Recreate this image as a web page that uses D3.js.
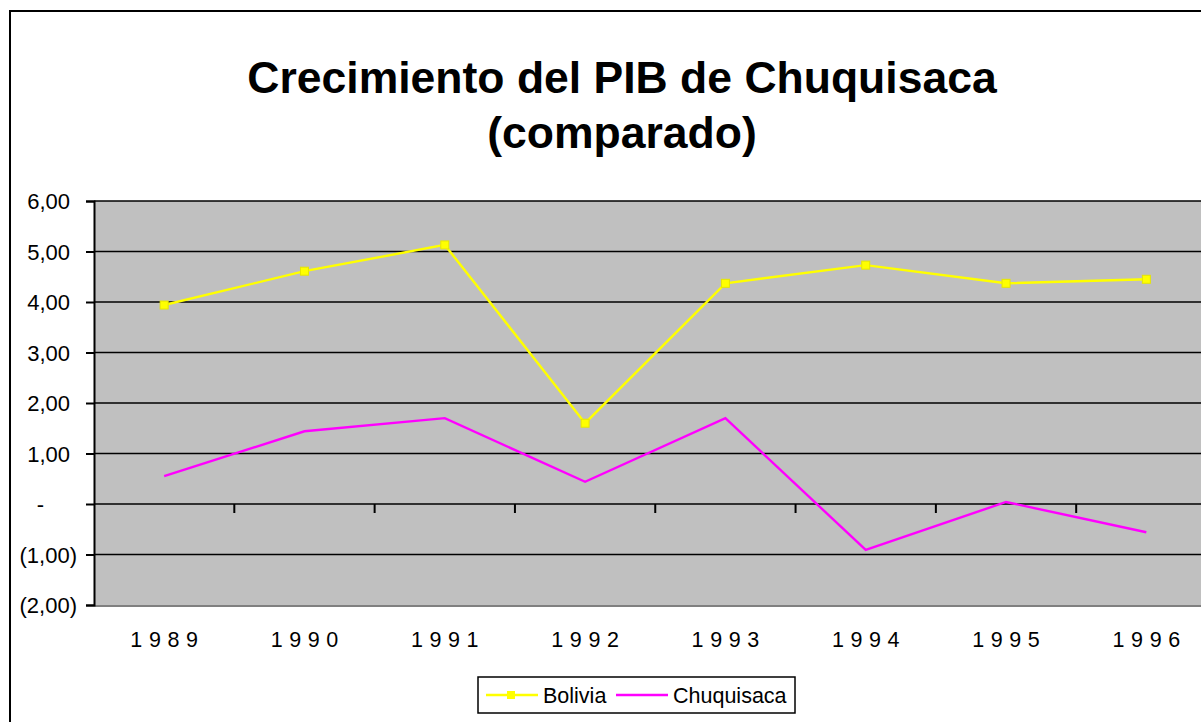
<!DOCTYPE html>
<html>
<head>
<meta charset="utf-8">
<script src="https://cdn.jsdelivr.net/npm/d3@7"></script>
<style>
  body { margin: 0; background: #fff; }
  svg { display: block; font-family: Arial, "Liberation Sans", sans-serif; }
</style>
</head>
<body>
<svg id="chart" width="1201" height="722"></svg>
<script>
// Data
const years = ["1989", "1990", "1991", "1992", "1993", "1994", "1995", "1996"];
const bolivia = [3.94, 4.61, 5.13, 1.60, 4.37, 4.73, 4.37, 4.45];
const chuquisaca = [0.55, 1.44, 1.70, 0.44, 1.70, -0.91, 0.04, -0.56];
const yTicks = [-2, -1, 0, 1, 2, 3, 4, 5, 6];
const titleLines = ["Crecimiento del PIB de Chuquisaca", "(comparado)"];
const seriesNames = ["Bolivia", "Chuquisaca"];

const svg = d3.select("#chart");

// Outer chart border (runs off the right and bottom of the picture)
svg.append("rect")
    .attr("x", 10).attr("y", 11)
    .attr("width", 1250).attr("height", 760)
    .attr("fill", "#fff")
    .attr("stroke", "#000")
    .attr("stroke-width", 2);

// Title
svg.append("g").selectAll("text")
    .data(titleLines)
    .join("text")
    .attr("x", 622)
    .attr("y", (d, i) => 93 + i * 55)
    .attr("text-anchor", "middle")
    .attr("font-size", 44.5)
    .attr("font-weight", "bold")
    .text(d => d);

const plot = { left: 94, top: 201, bottom: 605, right: 1216.5 };

const x = d3.scaleBand().domain(years).range([plot.left, plot.right]);
const y = d3.scaleLinear().domain([-2, 6]).range([plot.bottom, plot.top]);

// Plot area
svg.append("rect")
    .attr("x", plot.left).attr("y", plot.top)
    .attr("width", plot.right - plot.left).attr("height", plot.bottom - plot.top)
    .attr("fill", "#c0c0c0");
svg.append("line")
    .attr("x1", plot.left).attr("x2", plot.right)
    .attr("y1", plot.bottom + 1).attr("y2", plot.bottom + 1)
    .attr("stroke", "#808080").attr("stroke-width", 2);

// Gridlines
svg.append("g").selectAll("line")
    .data(yTicks.filter(d => d > -2))
    .join("line")
    .attr("x1", plot.left).attr("x2", plot.right)
    .attr("y1", d => y(d)).attr("y2", d => y(d))
    .attr("stroke", "#000").attr("stroke-width", 1.6);

// Y axis
const fmt = d3.format(".2f");
const yAxis = svg.append("g")
    .attr("transform", `translate(${plot.left},0)`)
    .call(d3.axisLeft(y).tickValues(yTicks).tickSize(8).tickPadding(0)
        .tickFormat(d => d === 0 ? "-" : d < 0 ? "(" + fmt(-d).replace(".", ",") + ")" : fmt(d).replace(".", ",")));
yAxis.select(".domain").attr("stroke", "#000").attr("stroke-width", 2);
yAxis.selectAll(".tick line").attr("stroke", "#000").attr("stroke-width", 2);
yAxis.selectAll(".tick text")
    .attr("font-size", 22)
    .attr("fill", "#000")
    .attr("font-family", "Arial, 'Liberation Sans', sans-serif")
    .attr("x", d => d < 0 ? -17 : d === 0 ? -50 : -24)
    .attr("dy", "0.36em");

// X axis on the zero line, ticks between categories
svg.append("g").selectAll("line")
    .data(years.slice(1))
    .join("line")
    .attr("x1", d => x(d)).attr("x2", d => x(d))
    .attr("y1", y(0)).attr("y2", y(0) + 9)
    .attr("stroke", "#000").attr("stroke-width", 2);

svg.append("g").selectAll("text")
    .data(years)
    .join("text")
    .attr("x", d => x(d) + x.bandwidth() / 2 + 3.3)
    .attr("y", 647)
    .attr("text-anchor", "middle")
    .attr("font-size", 21.5)
    .attr("letter-spacing", 6.6)
    .text(d => d);

// Lines
const line = d3.line()
    .x((d, i) => x(years[i]) + x.bandwidth() / 2)
    .y(d => y(d));

svg.append("path")
    .datum(chuquisaca)
    .attr("d", line)
    .attr("fill", "none")
    .attr("stroke", "#ff00ff")
    .attr("stroke-width", 2.4);

svg.append("path")
    .datum(bolivia)
    .attr("d", line)
    .attr("fill", "none")
    .attr("stroke", "#ffff00")
    .attr("stroke-width", 2.4);

svg.append("g").selectAll("rect")
    .data(bolivia)
    .join("rect")
    .attr("x", (d, i) => x(years[i]) + x.bandwidth() / 2 - 4)
    .attr("y", d => y(d) - 4)
    .attr("width", 8).attr("height", 8)
    .attr("fill", "#ffff00")
    .attr("stroke", "#e6e600")
    .attr("stroke-width", 1);

// Legend
const legend = svg.append("g");
legend.append("rect")
    .attr("x", 478).attr("y", 677)
    .attr("width", 317).attr("height", 36)
    .attr("fill", "#fff")
    .attr("stroke", "#000")
    .attr("stroke-width", 1.5);

const legendItems = [
    { name: seriesNames[0], color: "#ffff00", x0: 486, marker: true },
    { name: seriesNames[1], color: "#ff00ff", x0: 616, marker: false }
];
legendItems.forEach(it => {
    legend.append("line")
        .attr("x1", it.x0).attr("x2", it.x0 + 52)
        .attr("y1", 695).attr("y2", 695)
        .attr("stroke", it.color).attr("stroke-width", 2.4);
    if (it.marker) {
        legend.append("rect")
            .attr("x", it.x0 + 25 - 4).attr("y", 695 - 4)
            .attr("width", 8).attr("height", 8)
            .attr("fill", it.color);
    }
    legend.append("text")
        .attr("x", it.x0 + 57)
        .attr("y", 703)
        .attr("font-size", 21.5)
        .text(it.name);
});
</script>
</body>
</html>
